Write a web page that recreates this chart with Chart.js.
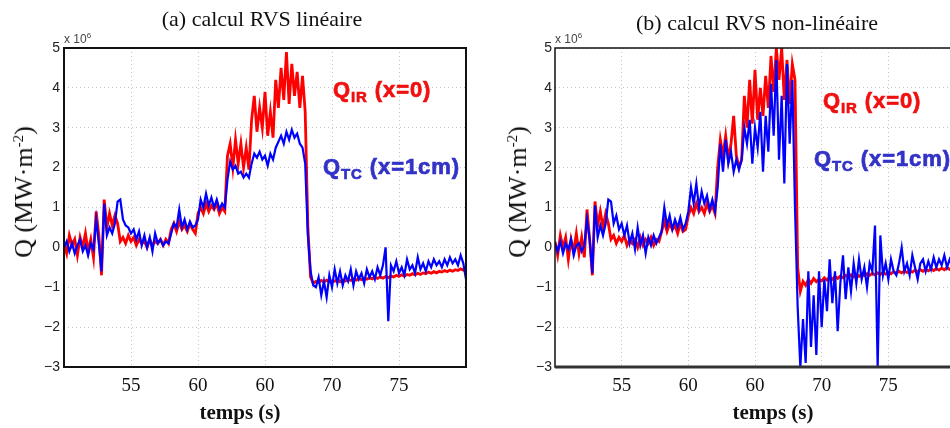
<!DOCTYPE html>
<html>
<head>
<meta charset="utf-8">
<script src="https://cdn.jsdelivr.net/npm/chart.js@4.4.1/dist/chart.umd.min.js"></script>
<style>
html, body { margin: 0; padding: 0; background: #fff; width: 950px; height: 428px; overflow: hidden; }
.pane { position: absolute; top: 0; height: 428px; }
.t { position: absolute; white-space: nowrap; transform: translate(-50%, -50%); }
.title { font-family: "Liberation Serif", serif; font-size: 22px; color: #111; }
.ylab { font-family: "Liberation Serif", serif; font-size: 26px; color: #111; transform: translate(-50%, -50%) rotate(-90deg); }
.ylab sup { font-size: 15px; vertical-align: 9px; }
.xlab { font-family: "Liberation Serif", serif; font-weight: bold; font-size: 21px; color: #111; }
.expo { font-family: "Liberation Sans", sans-serif; font-size: 12px; color: #444; transform: none; }
.expo sup { font-size: 8px; vertical-align: 5px; }
.note { font-family: "Liberation Sans", sans-serif; font-weight: bold; font-size: 22px; letter-spacing: 0.9px; transform: none; -webkit-text-stroke: 0.7px currentColor; }
.note sub { font-size: 15px; vertical-align: -5px; }
.ir { color: #f01010; }
.tc { color: #3232c8; }
</style>
</head>
<body>
<div class="pane" style="left:0;width:475px"><canvas id="chartA" width="475" height="428"></canvas></div>
<div class="pane" style="left:475px;width:490px"><canvas id="chartB" width="490" height="428"></canvas></div>

<div class="t title" style="left:262px;top:19px">(a) calcul RVS linéaire</div>
<div class="t title" style="left:757px;top:23px">(b) calcul RVS non-linéaire</div>
<div class="t ylab" style="left:24px;top:192px">Q (MW·m<sup>-2</sup>)</div>
<div class="t ylab" style="left:518px;top:192px">Q (MW·m<sup>-2</sup>)</div>
<div class="t xlab" style="left:240px;top:412px">temps (s)</div>
<div class="t xlab" style="left:773px;top:412px">temps (s)</div>
<div class="t expo" style="left:64px;top:31px">x 10<sup>6</sup></div>
<div class="t expo" style="left:555px;top:31px">x 10<sup>6</sup></div>
<div class="t note ir" style="left:333px;top:77px">Q<sub>IR</sub> (x=0)</div>
<div class="t note tc" style="left:323px;top:154px">Q<sub>TC</sub> (x=1cm)</div>
<div class="t note ir" style="left:823px;top:88px">Q<sub>IR</sub> (x=0)</div>
<div class="t note tc" style="left:814px;top:146px">Q<sub>TC</sub> (x=1cm)</div>

<script>
// time grid, 0.2 s steps from 50 to 80 s
const temps = Array.from({ length: 151 }, (_, i) => +(50 + i * 0.2).toFixed(1));

const xTickValues = [55, 60, 65, 70, 75];
const xTickLabels = ['55', '60', '60', '70', '75'];
const yTickLabels = ['\u22123', '\u22122', '\u22121', '0', '1', '2', '3', '4', '5'];

// (a) linear RVS, values in 1e6
const irLin = [
  0.1, -0.15, 0.3, 0.05, 0.2, -0.2, 0.25, 0.0, 0.35, -0.1, 0.2, -0.25,
  0.9, 0.3, -0.7, 1.2, 0.5, 0.85, 0.55, 0.8, 0.6,
  0.15,
  0.25, 0.1, 0.3, 0.15, 0.25, 0.05, 0.2, 0.1, 0.15, 0.0, 0.2, 0.05, 0.15, 0.1, 0.2, 0.05,
  0.2, 0.1,
  0.45,
  0.6, 0.4, 0.65, 0.45, 0.55, 0.4, 0.6, 0.45, 0.35,
  0.85,
  1.0, 0.85, 1.1, 0.9, 1.05, 0.95, 1.1, 0.85, 1.0, 0.9,
  2.3,
  2.6, 2.0, 2.7, 2.1, 2.6, 2.0, 2.5, 1.95,
  3.2,
  3.8, 2.9, 3.5, 3.0, 3.9, 2.8, 3.4, 2.75,
  4.2, 3.5, 4.5, 3.7, 4.9, 3.6, 4.6, 3.8, 4.4, 3.5, 4.3,
  3.4, 0.5, -0.75,
  -0.9, -0.85, -0.88, -0.83, -0.87, -0.82, -0.86, -0.84, -0.85, -0.8,
  -0.86, -0.82, -0.84, -0.8, -0.83, -0.79, -0.82, -0.78, -0.81, -0.77,
  -0.8, -0.76, -0.79, -0.75, -0.78, -0.74, -0.77, -0.73, -0.76, -0.72,
  -0.74, -0.7, -0.73, -0.69, -0.72, -0.68, -0.7, -0.66, -0.69, -0.65,
  -0.68, -0.64, -0.66, -0.62, -0.65, -0.61, -0.64, -0.6, -0.62, -0.58,
  -0.61, -0.57, -0.6, -0.56, -0.58, -0.54, -0.57, -0.53
];
const tcLin = [
  0.0, 0.15, -0.1, 0.1, -0.15, 0.05, 0.2, -0.1, 0.05, -0.2, 0.1, -0.05,
  0.7, 0.1, -0.6, 1.1, 0.3, 0.5, 0.35, 0.6, 1.15, 1.2, 0.7, 0.55,
  0.5, 0.35, 0.45, 0.2, 0.4, 0.05, 0.3, 0.0, 0.25, -0.1, 0.35, 0.1, 0.2, 0.05,
  0.15, 0.1,
  0.35,
  0.6, 0.5, 0.95, 0.5, 0.7, 0.45, 0.65, 0.5, 0.55,
  0.7,
  1.2, 1.0, 1.35, 1.05, 1.25, 1.0, 1.2, 0.95, 1.1, 1.0,
  1.7,
  2.15, 1.95, 2.05, 1.85, 1.9, 1.75, 1.85, 1.75,
  2.1,
  2.35, 2.25, 2.4, 2.2, 2.3, 2.05, 2.35, 2.2,
  2.5, 2.65, 2.8, 2.6, 2.9, 2.7, 2.95, 2.75, 2.85, 2.6, 2.5,
  2.1, 0.3, -0.6,
  -0.95, -1.0, -0.75, -1.2, -0.85, -1.25, -0.7, -1.0, -0.55, -0.9,
  -0.6, -0.95, -0.7, -0.85, -0.55, -0.95, -0.6, -0.8, -0.65, -0.9,
  -0.55, -0.75, -0.6, -0.8, -0.5, -0.7, -0.45, 0.0, -1.85, -0.45,
  -0.6, -0.35, -0.65, -0.5, -0.7, -0.3, -0.55, -0.45, -0.65, -0.25,
  -0.55, -0.4, -0.6, -0.35, -0.5, -0.3, -0.45, -0.35, -0.5, -0.3,
  -0.45, -0.25, -0.4, -0.3, -0.45, -0.2, -0.4, -0.8
];

// (b) non-linear RVS, values in 1e6
const irNonLin = [
  0.15, -0.2, 0.3, 0.0, 0.25, -0.3, 0.2, -0.1, 0.35, -0.15, 0.25, -0.25,
  0.95, 0.2, -0.7, 1.15, 0.55, 0.9, 0.5, 0.85, 0.6,
  0.2,
  0.3, 0.1, 0.25, 0.15, 0.3, 0.05, 0.2, 0.1, 0.2, 0.0, 0.25, 0.05, 0.2, 0.1, 0.25, 0.05,
  0.2, 0.15,
  0.4,
  0.65, 0.4, 0.6, 0.45, 0.55, 0.35, 0.6, 0.4, 0.45,
  0.8,
  1.0, 0.85, 1.1, 0.9, 1.0, 0.85, 1.1, 0.9, 1.05, 0.85,
  2.0,
  2.7, 2.3, 2.8, 2.2, 2.6, 3.3, 2.3, 2.0,
  2.2,
  3.8, 3.0, 4.2, 3.1, 4.45, 3.2, 4.0, 3.3,
  4.3, 3.5, 4.8, 3.9, 5.0, 4.2, 5.0, 3.7, 4.7, 3.6, 4.6,
  4.2, -0.5, -1.1,
  -0.85, -0.95, -0.8, -0.9, -0.78, -0.86, -0.8, -0.84, -0.76, -0.82,
  -0.75, -0.8, -0.73, -0.78, -0.72, -0.76, -0.7, -0.75, -0.69, -0.74,
  -0.68, -0.73, -0.67, -0.71, -0.66, -0.7, -0.65, -0.69, -0.64, -0.68,
  -0.63, -0.67, -0.62, -0.66, -0.61, -0.65, -0.6, -0.64, -0.59, -0.63,
  -0.58, -0.62, -0.57, -0.61, -0.56, -0.6, -0.55, -0.59, -0.54, -0.58,
  -0.53, -0.57, -0.52, -0.56, -0.51, -0.55, -0.5, -0.54
];
const tcNonLin = [
  0.1, -0.1, 0.15, -0.15, 0.1, -0.05, 0.2, -0.2, 0.05, 0.1, -0.1, 0.05,
  0.7, 0.2, -0.65, 1.05, 0.25, 0.55, 0.3, 0.6, 1.2, 1.15, 0.6, 0.8,
  0.45, 0.6, 0.3, 0.55, 0.1, 0.35, -0.05, 0.5, 0.05, 0.3, -0.15, 0.25, 0.05, 0.3,
  0.1, 0.25,
  0.4,
  1.0, 0.55, 0.8, 0.45, 0.7, 0.5, 0.75, 0.45, 0.6,
  0.9,
  1.5, 1.1, 1.6, 1.0, 1.4, 1.1, 1.3, 0.95, 1.2, 0.9,
  1.5,
  2.6, 1.9, 2.7, 2.1, 2.4, 1.9, 2.2, 1.95,
  2.2,
  3.0, 2.6, 3.2, 2.1, 3.0, 2.5, 3.4, 1.9,
  3.3, 2.4, 4.1, 2.8, 4.7, 2.2, 3.8, 1.6, 4.6, 2.6, 4.2,
  1.0, -1.5, -3.0,
  -1.8, -2.9, -0.6, -2.5, -1.2, -2.7, -0.6, -2.0, -0.8, -1.6,
  -0.3, -1.4, -0.6, -2.1, -0.9, -0.2, -1.3, -0.5, -1.1, -0.4,
  -0.9, -0.3, -0.8, -0.5, -1.0, -0.4, -0.6, 0.55, -3.0, 0.3,
  -0.7, -0.4, -0.8, -0.3, -0.6, -0.7, -0.4, 0.0, -0.6, -0.4,
  -0.7, -0.2, -0.5, -0.8, -0.4, -0.3, -0.6, -0.35, -0.55, -0.25,
  -0.5, -0.3, -0.45, -0.2, -0.5, -0.3, -0.45, -0.35
];

const framePlugin = {
  id: 'frame',
  afterDatasetsDraw(chart, args, opts) {
    const a = chart.chartArea, ctx = chart.ctx;
    ctx.save();
    ctx.strokeStyle = '#111';
    ctx.lineWidth = opts.width || 1.5;
    ctx.strokeRect(a.left, a.top, a.right - a.left, a.bottom - a.top);
    if (opts.bottomWidth) {
      ctx.lineWidth = opts.bottomWidth;
      ctx.strokeStyle = '#333';
      ctx.beginPath();
      ctx.moveTo(a.left, a.bottom);
      ctx.lineTo(a.right, a.bottom);
      ctx.stroke();
    }
    ctx.restore();
  }
};

function makeChart(id, ir, tc, axisW, padRight, tickPad, frame) {
  return new Chart(document.getElementById(id), {
    type: 'line',
    data: {
      labels: temps,
      datasets: [
        { label: 'Q_TC (x=1cm)', data: tc.map((v, i) => ({ x: temps[i], y: v })), borderColor: '#0000ff', borderWidth: 2.2, order: 1 },
        { label: 'Q_IR (x=0)', data: ir.map((v, i) => ({ x: temps[i], y: v })), borderColor: '#ff0000', borderWidth: 2.8, order: 2 }
      ]
    },
    options: {
      responsive: false,
      animation: false,
      events: [],
      elements: { point: { radius: 0 }, line: { tension: 0 } },
      layout: { padding: { top: 48, right: padRight, bottom: 0, left: 0 } },
      plugins: { legend: { display: false }, tooltip: { enabled: false }, frame: frame },
      scales: {
        x: {
          type: 'linear', min: 50, max: 80,
          afterBuildTicks: s => { s.ticks = xTickValues.map(v => ({ value: v })); },
          afterFit: s => { s.height = 428 - 367; },
          ticks: {
            padding: 8, color: '#111',
            font: { family: 'Liberation Serif', size: 19 },
            callback: v => xTickLabels[xTickValues.indexOf(v)]
          },
          grid: { color: '#c4c4c4', lineWidth: 1, drawTicks: false },
          border: { display: false, dash: [1, 3] }
        },
        y: {
          min: -3, max: 5,
          afterFit: s => { s.width = axisW; },
          ticks: {
            stepSize: 1, padding: tickPad, color: '#222',
            font: { family: 'Liberation Sans', size: 14 },
            callback: v => yTickLabels[v + 3]
          },
          grid: { color: '#c4c4c4', lineWidth: 1, drawTicks: false },
          border: { display: false, dash: [1, 3] }
        }
      }
    },
    plugins: [framePlugin]
  });
}

makeChart('chartA', irLin, tcLin, 64, 9, 4, { width: 2 });
makeChart('chartB', irNonLin, tcNonLin, 80, 10, 3, { width: 1.5, bottomWidth: 3 });
</script>
</body>
</html>
